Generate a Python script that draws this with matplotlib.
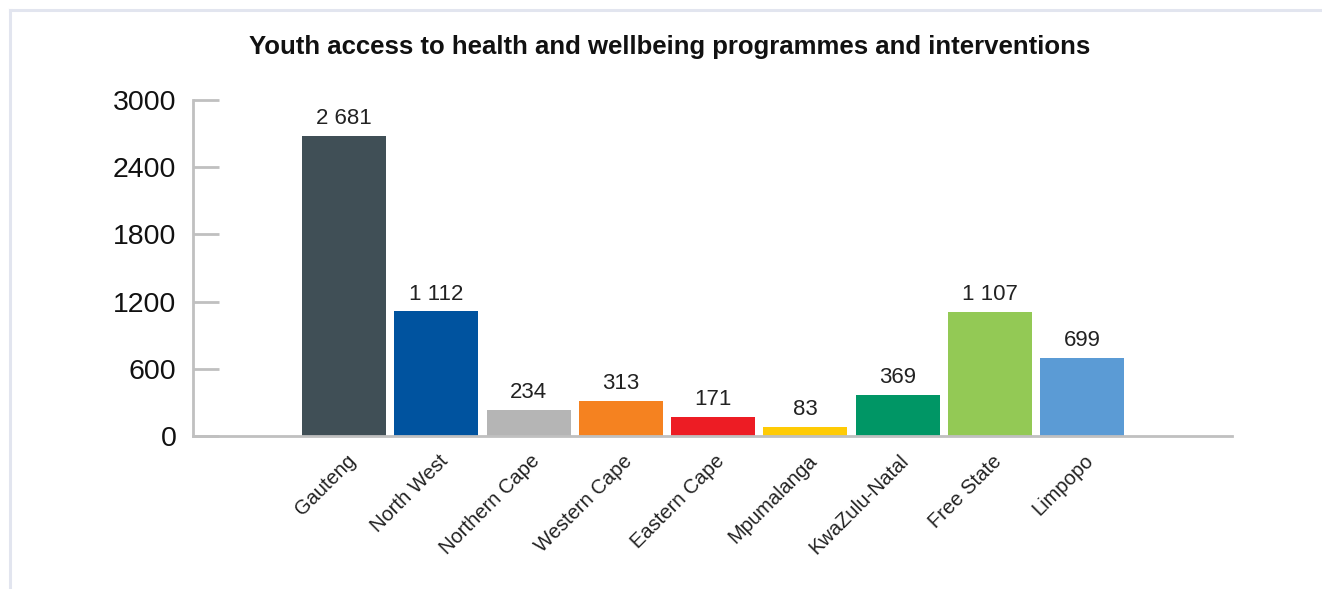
import matplotlib
matplotlib.use("Agg")
import matplotlib.pyplot as plt
from matplotlib.lines import Line2D
from matplotlib.transforms import ScaledTranslation

plt.rcParams['font.family'] = ['Liberation Sans', 'DejaVu Sans']

title = "Youth access to health and wellbeing programmes and interventions"
provinces = ["Gauteng", "North West", "Northern Cape", "Western Cape", "Eastern Cape",
             "Mpumalanga", "KwaZulu-Natal", "Free State", "Limpopo"]
youth_reached = [2681, 1112, 234, 313, 171, 83, 369, 1107, 699]
bar_colors = ["#404f56", "#00539f", "#b5b5b5", "#f58220", "#ed1c24",
              "#ffcb05", "#009665", "#93c955", "#5b9bd5"]
y_ticks = [0, 600, 1200, 1800, 2400, 3000]

W, H = 1322, 589
fig = plt.figure(figsize=(W / 100, H / 100), dpi=100)

# light frame along the top and left edges
frame_col = "#e2e5ef"
fig.add_artist(Line2D([10 / W, 1], [1 - 10 / H, 1 - 10 / H], color=frame_col, lw=2.2,
                      transform=fig.transFigure))
fig.add_artist(Line2D([10 / W, 10 / W], [0, 1 - 10 / H], color=frame_col, lw=2.2,
                      transform=fig.transFigure))

left, right = 193 / W, 1232 / W
bottom, top = (H - 436) / H, (H - 100) / H
ax = fig.add_axes([left, bottom, right - left, top - bottom])

x = list(range(len(provinces)))
ax.bar(x, youth_reached, width=84 / 92.25, color=bar_colors, zorder=2)

def fmt(v):
    return f"{v:,}".replace(",", " ")

for xi, v in zip(x, youth_reached):
    ax.annotate(fmt(v), (xi, v), xytext=(0, 5), textcoords="offset points",
                ha="center", va="bottom", fontsize=16, color="#222222",
                annotation_clip=False)

ax.set_xlim(-1.637, 9.626)
ax.set_ylim(0, 3000)
ax.set_yticks(y_ticks)
ax.set_yticklabels([str(t) for t in y_ticks], fontsize=20.5, color="#111111")

ax.set_xticks(x)
ax.set_xticklabels(provinces, rotation=45, ha="right", rotation_mode="anchor",
                   fontsize=14.5, color="#222222")
ax.tick_params(axis="x", length=0, pad=11)
for lbl in ax.get_xticklabels():
    lbl.set_transform(lbl.get_transform() + ScaledTranslation(2 / 100, 0, fig.dpi_scale_trans))

ax.tick_params(axis="y", direction="in", length=18.5, width=2, color="#c0c0c0", pad=12)

for s in ["top", "right"]:
    ax.spines[s].set_visible(False)
for s in ["left", "bottom"]:
    ax.spines[s].set_color("#c0c0c0")
    ax.spines[s].set_linewidth(2)

fig.text(670 / W, 1 - 47 / H, title, ha="center", va="center",
         fontsize=18.5, fontweight="bold", color="#111111")

fig.savefig("out.png", dpi=100, facecolor="white")
